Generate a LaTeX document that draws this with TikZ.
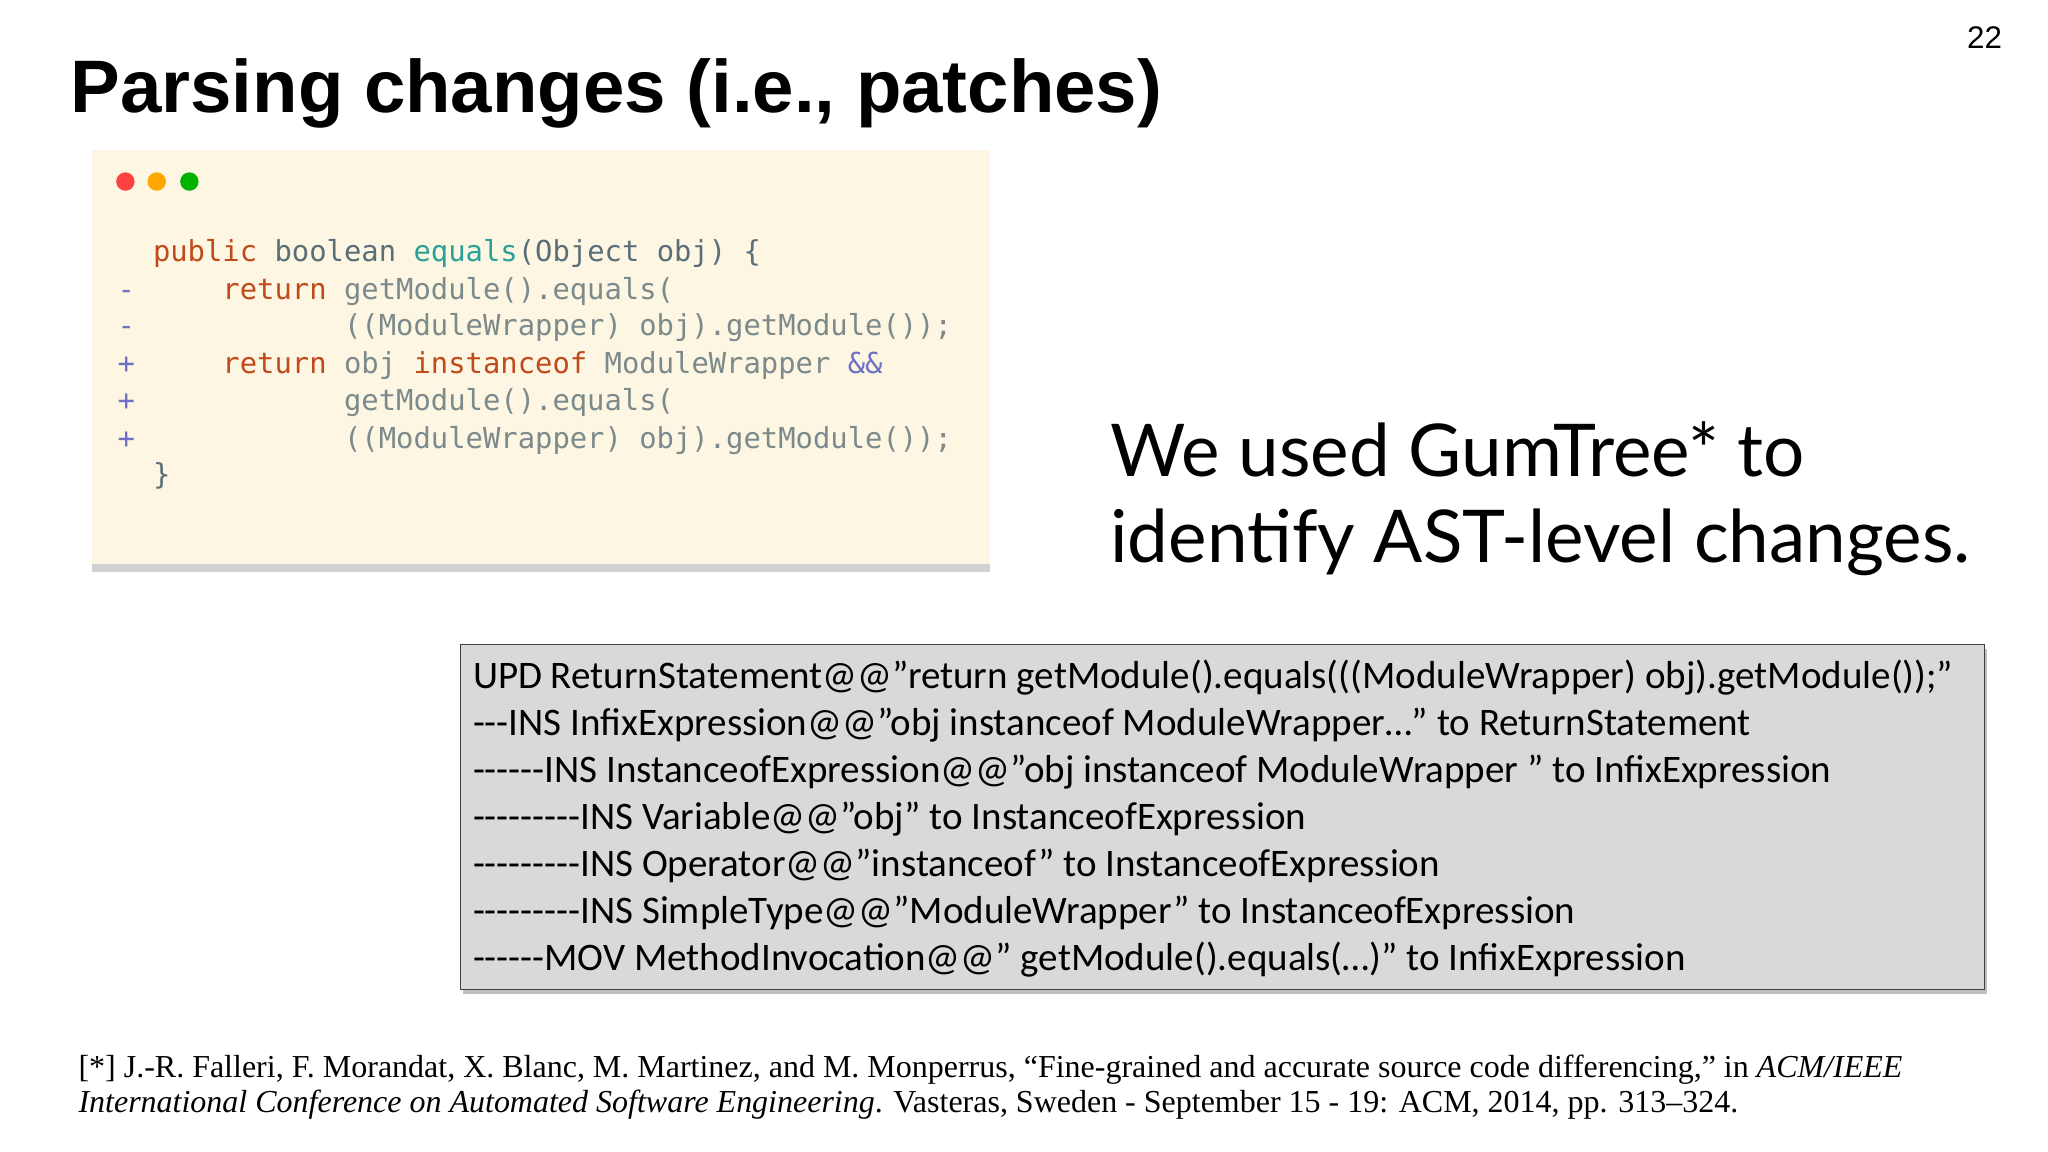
\documentclass[tikz,border=0pt]{standalone}
\usepackage{fontspec}
\setmainfont{Liberation Sans}
\newfontfamily\titlef{Liberation Sans}
\newfontfamily\codef{DejaVu Sans Mono}
\newfontfamily\bigf{Lato}
\newfontfamily\boxf{Carlito}
\newfontfamily\serf{Liberation Serif}
\usetikzlibrary{shadows}
\definecolor{codebg}{HTML}{FDF6E3}
\definecolor{kw}{HTML}{C04A1A}
\definecolor{ty}{HTML}{5A6E78}
\definecolor{fn}{HTML}{2AA198}
\definecolor{pl}{HTML}{7C8A8C}
\definecolor{op}{HTML}{6C71C4}
\definecolor{graybox}{HTML}{D9D9D9}
\tikzset{
  t/.style={anchor=base west,inner sep=0pt},
  code/.style={t,font=\codef\fontsize{31.3pt}{31.3pt}\selectfont},
  boxline/.style={t,font=\boxf\fontsize{42.3pt}{42.3pt}\selectfont},
  dot/.style={circle,inner sep=0pt,minimum size=20pt}
}
\begin{document}
\begin{tikzpicture}[x=1.417pt,y=-1.417pt]
\useasboundingbox (0,0) rectangle (1568,882);
\fill[white] (0,0) rectangle (1568,882);
\node[t,font=\titlef\bfseries\fontsize{80.7pt}{80.7pt}\selectfont] (title) at (54,86) {Parsing changes (i.e., patches)};
\node[t,font=\fontsize{34pt}{34pt}\selectfont] (pg) at (1506,37) {22};
% code window
\node[draw=none,fill=codebg,minimum width=688*1.417pt,minimum height=317*1.417pt,anchor=north west,inner sep=0pt,
  drop shadow={shadow xshift=0pt,shadow yshift=-8pt,opacity=0.35}] (win) at (70,115) {};
\node[dot,fill=red!75!white] (d1) at (96,139) {};
\node[dot,fill=orange!70!yellow] (d2) at (120,139) {};
\node[dot,fill=green!70!black] (d3) at (145,139) {};
\def\cx#1{117+13.3*#1}
\node[code,text=kw] (a1) at ({\cx{0}},200) {public};
\node[code,text=ty] (a2) at ({\cx{7}},200) {boolean};
\node[code,text=fn] (a3) at ({\cx{15}},200) {equals};
\node[code,text=ty] (a4) at ({\cx{21}},200) {(Object obj) \{};
\node[code,text=op] (m1) at (90,229) {-};
\node[code,text=kw] (b1) at ({\cx{4}},229) {return};
\node[code,text=pl] (b2) at ({\cx{11}},229) {getModule().equals(};
\node[code,text=op] (m2) at (90,257) {-};
\node[code,text=pl] (c1) at ({\cx{11}},257) {((ModuleWrapper) obj).getModule());};
\node[code,text=op] (p1) at (90,286) {+};
\node[code,text=kw] (e1) at ({\cx{4}},286) {return};
\node[code,text=pl] (e2) at ({\cx{11}},286) {obj};
\node[code,text=kw] (e3) at ({\cx{15}},286) {instanceof};
\node[code,text=pl] (e4) at ({\cx{26}},286) {ModuleWrapper};
\node[code,text=op] (e5) at ({\cx{40}},286) {\&\&};
\node[code,text=op] (p2) at (90,314) {+};
\node[code,text=pl] (f1) at ({\cx{11}},314) {getModule().equals(};
\node[code,text=op] (p3) at (90,343) {+};
\node[code,text=pl] (g1) at ({\cx{11}},343) {((ModuleWrapper) obj).getModule());};
\node[code,text=ty] (h1) at ({\cx{0}},371) {\}};
% big text
\node[t,font=\bigf\fontsize{79pt}{79pt}\selectfont] (w1) at (850,365) {We used GumTree* to};
\node[t,font=\bigf\fontsize{79pt}{79pt}\selectfont] (w2) at (850,431) {identify AST-level changes.};
% gray box
\node[draw=black!75,line width=1.5pt,fill=graybox,minimum width=1167*1.417pt,minimum height=264*1.417pt,anchor=north west,inner sep=0pt,
  drop shadow={shadow xshift=3pt,shadow yshift=-5pt,opacity=0.5}] (gb) at (352,493) {};
\node[boxline] (l1) at (362,527) {UPD ReturnStatement@@”return getModule().equals(((ModuleWrapper) obj).getModule());”};
\node[boxline] (l2) at (362,563) {---INS InfixExpression@@”obj instanceof ModuleWrapper…” to ReturnStatement};
\node[boxline] (l3) at (362,599) {------INS InstanceofExpression@@”obj instanceof ModuleWrapper ” to InfixExpression};
\node[boxline] (l4) at (362,635) {---------INS Variable@@”obj” to InstanceofExpression};
\node[boxline] (l5) at (362,671) {---------INS Operator@@”instanceof” to InstanceofExpression};
\node[boxline] (l6) at (362,707) {---------INS SimpleType@@”ModuleWrapper” to InstanceofExpression};
\node[boxline] (l7) at (362,743) {------MOV MethodInvocation@@” getModule().equals(…)” to InfixExpression};
% footnote
\node[t,font=\serf\fontsize{34.7pt}{34.7pt}\selectfont] (r1) at (60,825) {[*] J.-R. Falleri, F. Morandat, X. Blanc, M. Martinez, and M. Monperrus, “Fine-grained and accurate source code differencing,” in \textit{ACM/IEEE}};
\node[t,font=\serf\fontsize{34.7pt}{34.7pt}\selectfont] (r2) at (60,852) {\textit{International Conference on Automated Software Engineering}. Vasteras, Sweden - September 15 - 19: ACM, 2014, pp. 313–324.};
\end{tikzpicture}
\end{document}
